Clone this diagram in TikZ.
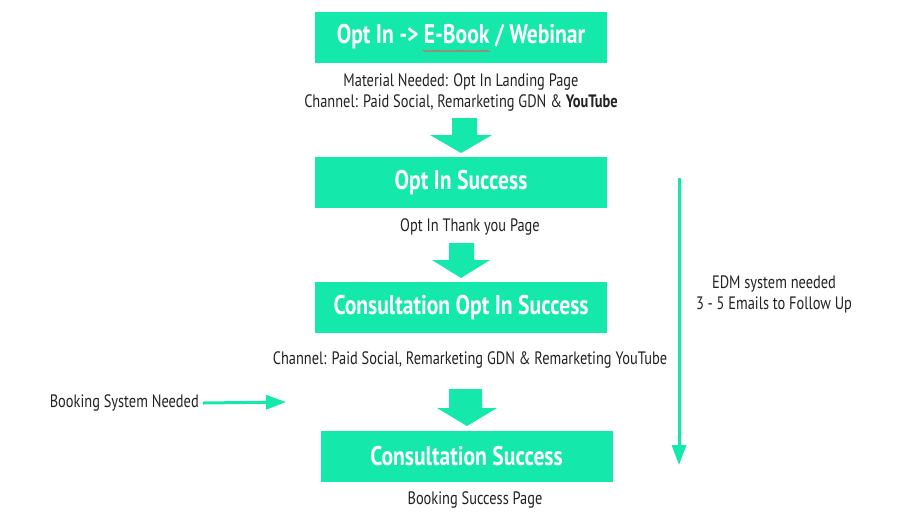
\documentclass[tikz,border=0pt]{standalone}
\usepackage{fontspec}
\setmainfont{PT Sans}[FakeStretch=0.8]
\usetikzlibrary{arrows.meta,decorations.pathmorphing}
\definecolor{mint}{HTML}{14E8AA}
\definecolor{ink}{HTML}{222222}
\tikzset{
  stagebox/.style={fill=mint,minimum width=292pt,minimum height=51pt,inner sep=0pt,
    text=white,font=\fontsize{27}{30}\selectfont\bfseries},
  note/.style={text=ink,font=\fontsize{18}{21}\selectfont,align=center,inner sep=0pt},
  thinarrow/.style={draw=mint,line width=3pt,-{Triangle[length=20pt,width=14pt]}},
  blockarrow/.style={fill=mint},
}
\begin{document}
\begin{tikzpicture}[x=1pt,y=-1pt]
\useasboundingbox (0,0) rectangle (917,520);
% boxes
\node[stagebox] (b1) at (461,37) {Opt In -> E-Book / Webinar};
\node[stagebox] (b2) at (461,182.5) {Opt In Success};
\node[stagebox] (b3) at (461,307.5) {Consultation Opt In Success};
\node[stagebox] (b4) at (466.5,456) {Consultation Success};
% spell-check squiggle
\draw[red!70!white,line width=0.6pt,decorate,decoration={snake,amplitude=0.8pt,segment length=3pt}] (423,51) -- (490,51);
% notes
\node[note] (n1) at (461,92.5) {Material Needed: Opt In Landing Page\\Channel: Paid Social, Remarketing GDN \& \textbf{YouTube}};
\node[note] (n2) at (470,226.5) {Opt In Thank you Page};
\node[note] (n3) at (470,359.5) {Channel: Paid Social, Remarketing GDN \& Remarketing YouTube};
\node[note] (n4) at (475,499.5) {Booking Success Page};
\node[note] (n5) at (774,294.5) {EDM system needed\\3 - 5 Emails to Follow Up};
\node[note,anchor=east] (n6) at (199,403) {Booking System Needed};
% block arrows
\fill[blockarrow] (452,118) -- (477,118) -- (477,135) -- (492,135) -- (461,153) -- (430,135) -- (452,135) -- cycle;
\fill[blockarrow] (449,243) -- (474,243) -- (474,260) -- (490,260) -- (461,278) -- (432,260) -- (449,260) -- cycle;
\fill[blockarrow] (449,389) -- (482,389) -- (482,408) -- (497,408) -- (467,426) -- (437,408) -- (449,408) -- cycle;
% thin arrows
\coordinate (eTop) at (679,178);
\coordinate (eBot) at (679,465);
\draw[thinarrow] (eTop) -- (eBot);
\coordinate (bsEnd) at (286,402);
\draw[thinarrow] ([xshift=4pt]n6.east) -- (bsEnd);
\end{tikzpicture}
\end{document}
